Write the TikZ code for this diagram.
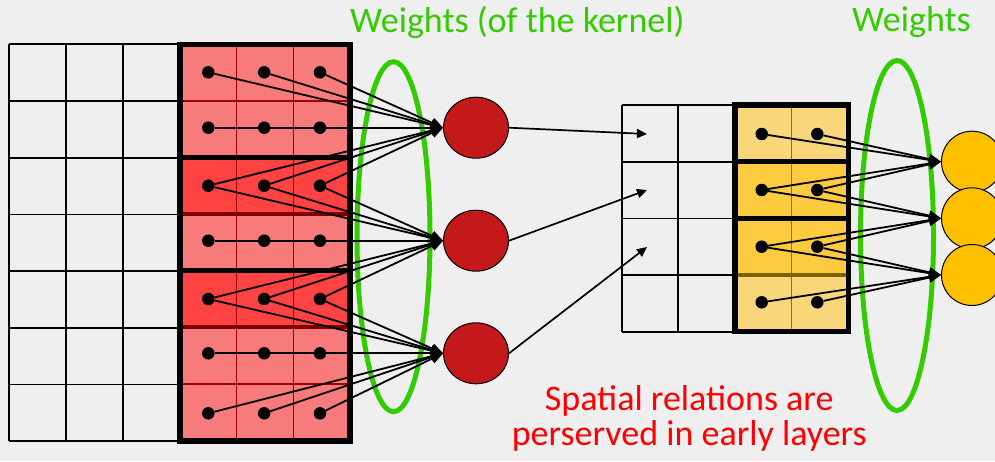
\documentclass[tikz,border=0pt]{standalone}
\usepackage{fontspec}
\setmainfont{Carlito}
\usetikzlibrary{arrows.meta,shapes.geometric}

\definecolor{bgc}{RGB}{240,239,240}
\definecolor{redLight}{RGB}{247,123,123}
\definecolor{redDark}{RGB}{255,66,66}
\definecolor{redGrid}{RGB}{160,0,0}
\definecolor{redSep}{RGB}{128,0,0}
\definecolor{neuronRed}{RGB}{196,25,26}
\definecolor{yelLight}{RGB}{248,215,122}
\definecolor{yelDark}{RGB}{252,203,64}
\definecolor{yelGrid}{RGB}{150,112,0}
\definecolor{yelSep}{RGB}{128,96,0}
\definecolor{neuronYel}{RGB}{255,192,0}
\definecolor{ringGreen}{RGB}{51,204,0}
\definecolor{noteRed}{RGB}{255,0,0}

\tikzset{
  gridline/.style={draw=black, line width=1.7pt},
  kernelborder/.style={draw=black, line width=5.5pt},
  dot/.style={circle, fill=black, inner sep=0pt, minimum size=12.5pt},
  karrow/.style={draw=black, line width=1.8pt, -{Triangle[length=12pt,width=10pt]}},
  narrow/.style={draw=black, line width=1.7pt, -{Triangle[length=10pt,width=9pt]}},
  neuronR/.style={ellipse, draw=black, line width=1pt, fill=neuronRed, minimum width=65pt, minimum height=61pt, inner sep=0pt},
  neuronY/.style={circle, draw=black, line width=1pt, fill=neuronYel, minimum size=61pt, inner sep=0pt},
  ring/.style={ellipse, draw=ringGreen, line width=5pt, minimum width=73pt, minimum height=350pt, inner sep=0pt},
  greentext/.style={text=ringGreen, font=\fontsize{36}{36}\selectfont, inner sep=0pt, anchor=base},
  redtext/.style={text=noteRed, font=\fontsize{36}{36}\selectfont, inner sep=0pt, anchor=base},
}

\begin{document}
\begin{tikzpicture}[x=1pt, y=-1pt]
\useasboundingbox (0,0) rectangle (995,461);
\fill[bgc] (0,0) rectangle (995,461);

% ---------- input layer: 6 x 7 grid, kernel columns shaded ----------
\fill[redLight] (180,44.3) rectangle (350,441);
\fill[redDark] (180,157.7) rectangle (350,214.3);
\fill[redDark] (180,270.7) rectangle (350,327.3);
\foreach \x in {236.7,293.3}
  \draw[redGrid, line width=1.4pt] (\x,44.3) -- (\x,441);
\foreach \y in {101,384}
  \draw[redGrid, line width=1.4pt] (180,\y) -- (350,\y);
\foreach \k in {0,...,7}
  \draw[gridline] (9.3,{44.3+\k*56.7}) -- (180,{44.3+\k*56.7});
\foreach \x in {9.3,66,122.7}
  \draw[gridline] (\x,44.3) -- (\x,441);
\draw[redSep, line width=4pt] (182,214.3) -- (348,214.3);
\draw[redSep, line width=4pt] (182,327.3) -- (348,327.3);
\draw[kernelborder] (180,44.3) rectangle (350,441);
\draw[kernelborder] (180,157.7) -- (350,157.7);
\draw[kernelborder] (180,270.7) -- (350,270.7);

% ---------- hidden layer: 4 x 4 grid, kernel columns shaded ----------
\fill[yelLight] (735,105) rectangle (848.3,331.7);
\fill[yelDark] (735,161.7) rectangle (848.3,275);
\draw[yelGrid, line width=1.4pt] (791.7,105) -- (791.7,331.7);
\foreach \k in {0,...,4}
  \draw[gridline] (621.7,{105+\k*56.7}) -- (735,{105+\k*56.7});
\foreach \x in {621.7,678.3}
  \draw[gridline] (\x,105) -- (\x,331.7);
\draw[yelSep, line width=4pt] (737,275) -- (846,275);
\draw[kernelborder] (735,105) rectangle (848.3,331.7);
\draw[kernelborder] (735,161.7) -- (848.3,161.7);
\draw[kernelborder] (735,218.3) -- (848.3,218.3);

% ---------- weight rings ----------
\node[ring] (ringL) at (393.5,236.7) {};
\node[ring] (ringR) at (897,235.5) {};

% ---------- input dots ----------
\foreach \y [count=\r from 0] in {72.3,127.7,185.7,240.7,299,353.3,413.3}
  \foreach \x [count=\c from 0] in {208.3,264.2,320}
    \node[dot] (L-\r-\c) at (\x,\y) {};

% ---------- hidden dots ----------
\foreach \y [count=\r from 0] in {134,190,246.7,302.3}
  \foreach \x [count=\c from 0] in {761.7,817.3}
    \node[dot] (M-\r-\c) at (\x,\y) {};

% ---------- neurons ----------
\node[neuronR] (N0) at (476,127.7) {};
\node[neuronR] (N1) at (476,240.7) {};
\node[neuronR] (N2) at (476,353.3) {};
\node[neuronY] (Y0) at (972,161.7) {};
\node[neuronY] (Y1) at (972,218.3) {};
\node[neuronY] (Y2) at (972,275) {};

% ---------- 3x3 kernels into the red neurons ----------
\foreach \k in {0,1,2}
  \foreach \dr in {0,1,2}
    \foreach \c in {0,1,2} {
      \pgfmathtruncatemacro{\r}{2*\k+\dr}
      \draw[karrow] (L-\r-\c) -- (N\k.west);
    }

% ---------- 2x2 kernels into the yellow neurons ----------
\foreach \k in {0,1,2}
  \foreach \dr in {0,1}
    \foreach \c in {0,1} {
      \pgfmathtruncatemacro{\r}{\k+\dr}
      \draw[karrow] (M-\r-\c) -- (Y\k.west);
    }

% ---------- red neurons feed the next grid ----------
\coordinate (T0) at (647,134);
\coordinate (T1) at (647,190);
\coordinate (T2) at (647,247);
\draw[narrow] (N0.east) -- (T0);
\draw[narrow] (N1.east) -- (T1);
\draw[narrow] (N2.east) -- (T2);

% ---------- labels ----------
\node[greentext] (wk) at (517.3,32) {Weights (of the kernel)};
\node[greentext] (wy) at (911.5,31) {Weights};
\node[redtext] (sp1) at (689.2,410.5) {Spatial relations are};
\node[redtext] (sp2) at (689.2,445.5) {perserved in early layers};
\end{tikzpicture}
\end{document}
